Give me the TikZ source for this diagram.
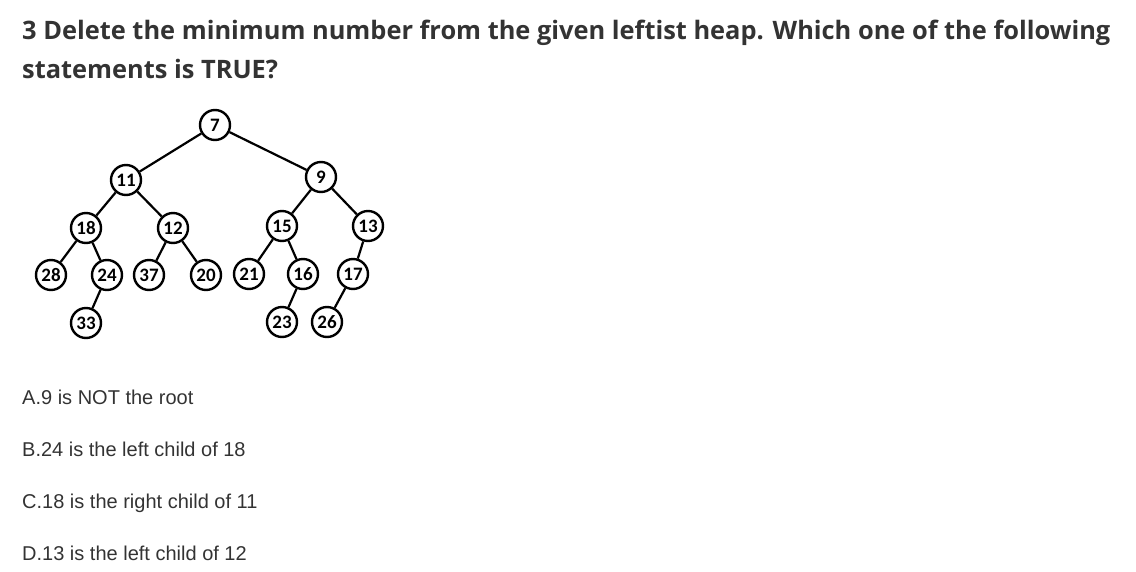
\documentclass[tikz,border=0pt]{standalone}
\usepackage{fontspec}
\setmainfont{Liberation Sans}
\newfontfamily\titlefont{Open Sans}
\newfontfamily\keyfont{Carlito}
\usepackage{tikz}
\definecolor{textgray}{HTML}{333333}
\tikzstyle{key} = [circle, draw=black, line width=2.4pt, minimum size=30pt, inner sep=0pt, fill=white, font=\keyfont\bfseries\fontsize{19}{19}\selectfont]
\tikzstyle{link} = [line width=2.2pt]
\tikzstyle{title} = [anchor=base west, inner sep=0pt, text=textgray, font=\titlefont\bfseries\fontsize{25.4}{25.4}\selectfont]
\tikzstyle{choice} = [anchor=base west, inner sep=0pt, text=textgray, font=\fontsize{20}{20}\selectfont]

\begin{document}
\begin{tikzpicture}[x=1pt, y=-1pt]
    \useasboundingbox (0,0) rectangle (1136,571);
    \node (question) [title] at (22,39) {3 Delete the minimum number from the given leftist heap. Which one of the following};
    \node (question2) [title] at (22,78) {statements is TRUE?};

    % heap
    \node (n7) [key] at (215,125) {7};
    \node (n11) [key] at (126,180) {11};
    \node (n9) [key] at (321,177) {9};
    \node (n18) [key] at (86,228) {18};
    \node (n12) [key] at (173,228) {12};
    \node (n15) [key] at (282,226) {15};
    \node (n13) [key] at (368,226) {13};
    \node (n28) [key] at (51,275) {28};
    \node (n24) [key] at (107,275) {24};
    \node (n37) [key] at (149,275) {37};
    \node (n20) [key] at (206,275) {20};
    \node (n21) [key] at (249,274) {21};
    \node (n16) [key] at (303,274) {16};
    \node (n17) [key] at (353,274) {17};
    \node (n33) [key] at (86,323) {33};
    \node (n23) [key] at (282,322) {23};
    \node (n26) [key] at (327,322) {26};

    \draw [link] (n7) -- (n11);
    \draw [link] (n7) -- (n9);
    \draw [link] (n11) -- (n18);
    \draw [link] (n11) -- (n12);
    \draw [link] (n18) -- (n28);
    \draw [link] (n18) -- (n24);
    \draw [link] (n24) -- (n33);
    \draw [link] (n12) -- (n37);
    \draw [link] (n12) -- (n20);
    \draw [link] (n9) -- (n15);
    \draw [link] (n9) -- (n13);
    \draw [link] (n15) -- (n21);
    \draw [link] (n15) -- (n16);
    \draw [link] (n16) -- (n23);
    \draw [link] (n13) -- (n17);
    \draw [link] (n17) -- (n26);

    % options
    \node (optA) [choice] at (22,404) {A.9 is NOT the root};
    \node (optB) [choice] at (22,456) {B.24 is the left child of 18};
    \node (optC) [choice] at (22,508) {C.18 is the right child of 11};
    \node (optD) [choice] at (22,560) {D.13 is the left child of 12};
\end{tikzpicture}
\end{document}
